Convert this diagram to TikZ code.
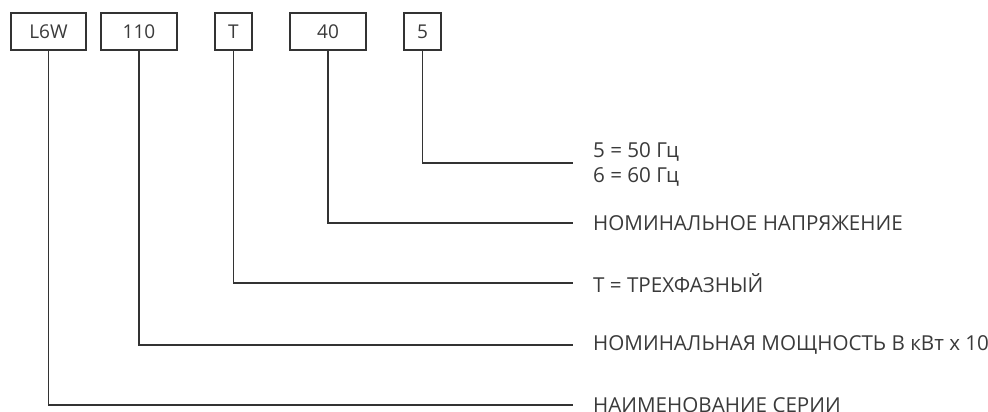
\documentclass[tikz,border=0pt]{standalone}
\usepackage{fontspec}
\setmainfont{Open Sans}
\definecolor{txt}{HTML}{3A3A3A}
\definecolor{ln}{HTML}{333333}
\begin{document}
\begin{tikzpicture}[x=1pt,y=-1pt,
  codebox/.style={draw=ln,line width=1.2pt,minimum height=37pt,inner sep=0pt,text=txt,font=\fontsize{19}{22}\selectfont},
  desc/.style={anchor=west,inner sep=0pt,text=txt,font=\fontsize{20.6}{25}\selectfont,align=left},
  conn/.style={draw=ln,line width=1.2pt}]
\useasboundingbox (0,0) rectangle (988,412);
\node[codebox,minimum width=75pt] (b1) at (48.5,31.5) {L6W};
\node[codebox,minimum width=76pt] (b2) at (139,31.5) {110};
\node[codebox,minimum width=37pt] (b3) at (233.5,31.5) {T};
\node[codebox,minimum width=76pt] (b4) at (328,31.5) {40};
\node[codebox,minimum width=37pt] (b5) at (422.5,31.5) {5};
\node[desc] (d5) at (593,164.5) {5 = 50 Гц\\6 = 60 Гц};
\node[desc] (d4) at (593,223) {НОМИНАЛЬНОЕ НАПРЯЖЕНИЕ};
\node[desc] (d3) at (593,283) {T = ТРЕХФАЗНЫЙ};
\node[desc] (d2) at (593,345) {НОМИНАЛЬНАЯ МОЩНОСТЬ В кВт x 10};
\node[desc] (d1) at (593,405) {НАИМЕНОВАНИЕ СЕРИИ};
\coordinate (e5) at (573,163);
\coordinate (e4) at (573,223);
\coordinate (e3) at (573,283);
\coordinate (e2) at (573,345);
\coordinate (e1) at (573,405);
\draw[conn] (b5.south) |- (e5);
\draw[conn] (b4.south) |- (e4);
\draw[conn] (b3.south) |- (e3);
\draw[conn] (b2.south) |- (e2);
\draw[conn] (b1.south) |- (e1);
\end{tikzpicture}
\end{document}
